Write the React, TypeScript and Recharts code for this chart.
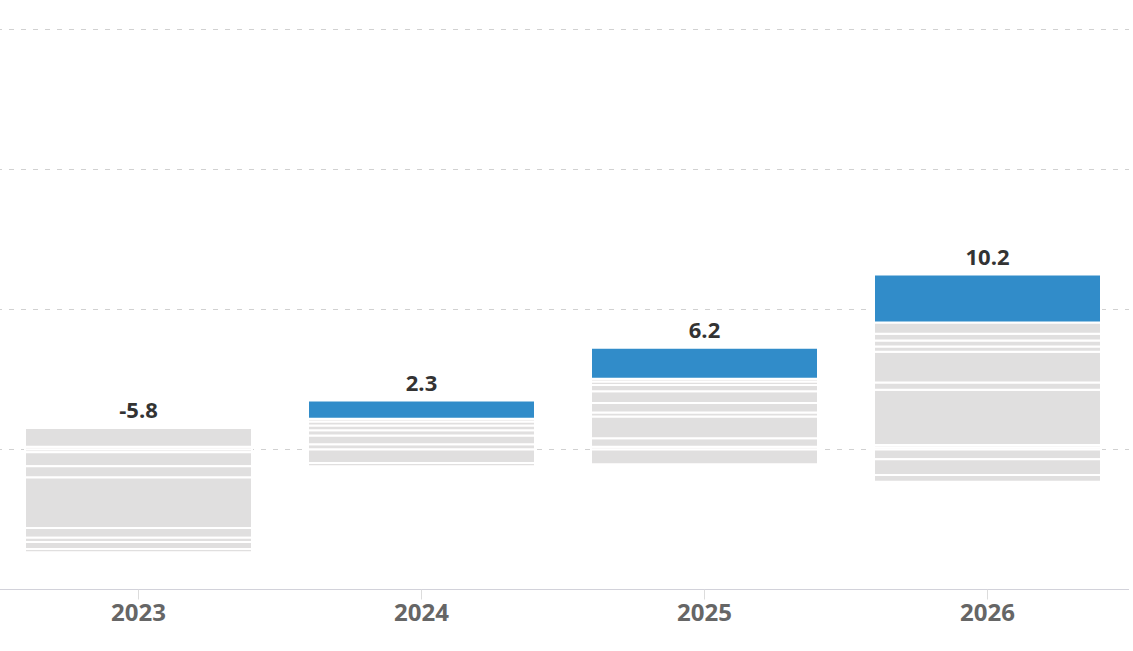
import React from "react";
import { BarChart, Bar, XAxis, YAxis, CartesianGrid, LabelList } from "recharts";

// contributions per year: grey parts above/below zero, blue part on top
const years = ["2023", "2024", "2025", "2026"];
const highlighted = [0, 1.3, 2.2, 3.43];
const gains = [
  [0.2, 1.34],
  [0.38, 0.62, 0.37, 0.34, 0.29, 0.2],
  [0.2, 0.6, 1.55, 0.3, 0.68, 0.83, 0.45, 0.25, 0.2],
  [0.16, 0.16, 3.95, 0.51, 2.21, 0.37, 0.42, 0.49, 0.8],
];
const drags = [
  [-0.2, -1.0, -0.8, -3.6, -0.7, -0.3, -0.5, -0.24],
  [-0.96, -0.24],
  [-1.06],
  [-0.7, -1.13, -0.47],
];
const yTicks = [-10, 0, 10, 20, 30];

const GREY = "#e0dfdf";
const BLUE = "#318cc9";

const upKeys = Array.from({ length: Math.max(...gains.map((g) => g.length)) }, (_, i) => `up${i}`);
const downKeys = Array.from({ length: Math.max(...drags.map((d) => d.length)) }, (_, i) => `down${i}`);

const sum = (arr: number[]) => arr.reduce((a, b) => a + b, 0);

const rows = years.map((year, i) => {
  const row: Record<string, number | string> = {
    year,
    lead: highlighted[i],
    total: (sum(gains[i]) + highlighted[i] + sum(drags[i])).toFixed(1),
    // the segment that ends the positive stack carries the total label
    top: highlighted[i] > 0 ? "lead" : `up${gains[i].length - 1}`,
  };
  upKeys.forEach((k, j) => (row[k] = gains[i][j] ?? 0));
  downKeys.forEach((k, j) => (row[k] = drags[i][j] ?? 0));
  return row;
});

const totalLabel = (key: string) => (
  <LabelList
    dataKey={(d: any) => (d.top === key ? d.total : null)}
    position="top"
    offset={10}
    fill="#333"
    fontSize={22}
    fontWeight={700}
    fontFamily="Open Sans"
  />
);

export default function App() {
  return (
    <div style={{ position: "absolute", left: -3, top: 0, fontFamily: "'Open Sans', sans-serif" }}>
      <BarChart
        width={1132}
        height={651}
        data={rows}
        stackOffset="sign"
        barSize={227}
        margin={{ top: 29.5, right: 0, left: 0, bottom: 0 }}
      >
        <XAxis
          dataKey="year"
          height={61.5}
          axisLine={{ stroke: "#d2d2da" }}
          tickLine={{ stroke: "#dcdcdc" }}
          tickSize={10}
          tickMargin={4}
          tick={{ fill: "#666", fontSize: 24, fontWeight: 700, fontFamily: "Open Sans" }}
        />
        <YAxis hide domain={[-10, 30]} ticks={yTicks} />
        {upKeys.map((k) => (
          <Bar key={k} dataKey={k} stackId="a" fill={GREY} stroke="#fff" strokeWidth={2} isAnimationActive={false}>
            {totalLabel(k)}
          </Bar>
        ))}
        <Bar dataKey="lead" stackId="a" fill={BLUE} stroke="#fff" strokeWidth={2} isAnimationActive={false}>
          {totalLabel("lead")}
        </Bar>
        {downKeys.map((k) => (
          <Bar key={k} dataKey={k} stackId="a" fill={GREY} stroke="#fff" strokeWidth={2} isAnimationActive={false} />
        ))}
        <CartesianGrid vertical={false} stroke="#999" strokeOpacity={0.45} strokeDasharray="5 7" />
      </BarChart>
    </div>
  );
}
